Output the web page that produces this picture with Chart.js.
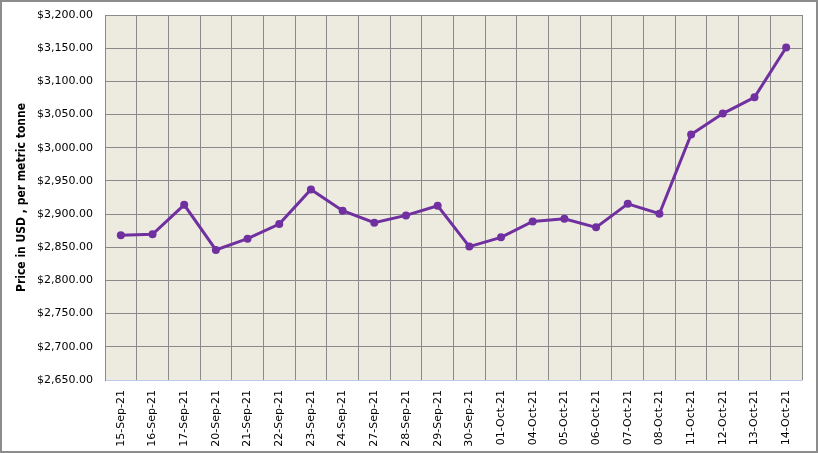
<!DOCTYPE html>
<html>
<head>
<meta charset="utf-8">
<script src="https://cdn.jsdelivr.net/npm/chart.js@4.4.0/dist/chart.umd.min.js"></script>
<style>
  html, body { margin: 0; padding: 0; background: #fff; }
  #wrap { position: relative; width: 818px; height: 453px; box-sizing: border-box; border: 2px solid #8c8c8c; }
  #chart { position: absolute; left: -2px; top: -2px; }
</style>
</head>
<body>
<div id="wrap"><canvas id="chart" width="818" height="453"></canvas></div>
<script>
// data
const dates = ['15-Sep-21','16-Sep-21','17-Sep-21','20-Sep-21','21-Sep-21','22-Sep-21','23-Sep-21','24-Sep-21','27-Sep-21','28-Sep-21','29-Sep-21','30-Sep-21','01-Oct-21','04-Oct-21','05-Oct-21','06-Oct-21','07-Oct-21','08-Oct-21','11-Oct-21','12-Oct-21','13-Oct-21','14-Oct-21']
const prices = [2868,2869.5,2914,2846,2863,2885,2937,2905,2887,2898,2912.5,2851,2865,2889,2893,2880,2915.5,2900.5,3020,3051.5,3076,3151]
const yMin = 2650
const yMax = 3200
const yStep = 50

// 繪圖區背景
const plotBg = {
  id: 'plotBg',
  beforeDraw(chart) {
    const {ctx, chartArea: a} = chart
    ctx.save()
    ctx.fillStyle = '#edeae0'
    ctx.fillRect(a.left, a.top, a.right - a.left, a.bottom - a.top)
    ctx.restore()
  }
}

const money = v => '$' + v.toLocaleString('en-US', {minimumFractionDigits: 2, maximumFractionDigits: 2})

const ctx = document.getElementById('chart').getContext('2d')
new Chart(ctx, {
  type: 'line',
  data: {
    labels: dates,
    datasets: [{
      data: prices,
      borderColor: '#7030a0',
      backgroundColor: '#7030a0',
      borderWidth: 3,
      pointRadius: 4,
      pointBorderWidth: 0,
      tension: 0
    }]
  },
  options: {
    responsive: false,
    animation: false,
    layout: { padding: { top: 15, right: 16, left: 0, bottom: 0 } },
    plugins: { legend: { display: false }, tooltip: { enabled: false } },
    scales: {
      x: {
        offset: true,
        grid: { offset: true, color: '#8a8a8a', lineWidth: 1, drawTicks: false },
        border: { color: '#bccde6', width: 1 },
        ticks: {
          maxRotation: 90, minRotation: 90, autoSkip: false, padding: 10,
          color: '#000', font: { family: 'DejaVu Sans', size: 11 }
        },
        afterFit: s => { s.height = 73; s.paddingLeft = 0; s.paddingRight = 0 }
      },
      y: {
        min: yMin, max: yMax,
        grid: { color: '#8a8a8a', lineWidth: 1, drawTicks: false },
        border: { color: '#8a8a8a' },
        ticks: {
          stepSize: yStep, padding: 12, color: '#000',
          font: { family: 'DejaVu Sans', size: 11 },
          callback: v => money(v)
        },
        title: {
          display: true, text: 'Price in USD , per metric tonne', color: '#000',
          font: { family: 'DejaVu Sans Condensed', size: 12, weight: 'bold' }, padding: { top: 15, bottom: 0 }
        },
        afterFit: s => { s.width = 105; s.paddingTop = 0; s.paddingBottom = 0 }
      }
    }
  },
  plugins: [plotBg]
})
</script>
</body>
</html>
